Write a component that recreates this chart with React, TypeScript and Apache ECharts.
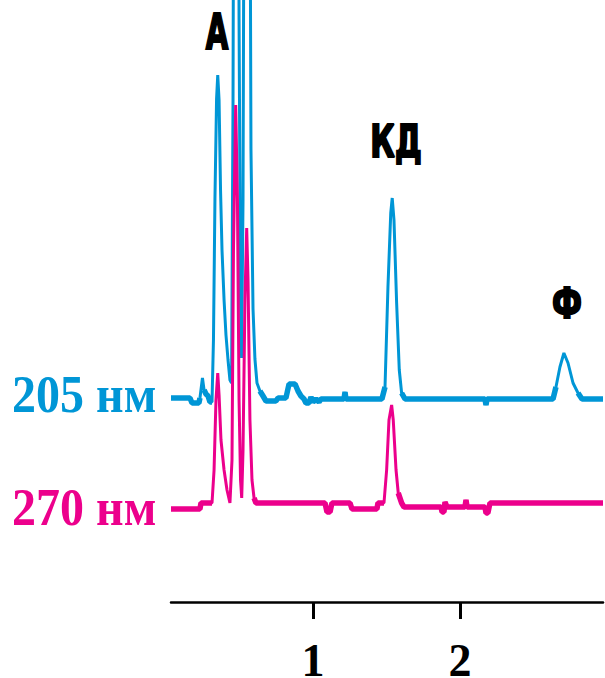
import React, { useEffect, useRef } from "react";
import * as echarts from "echarts";

// Chromatogram traces: [time (min), signal (arb. units)]
const trace205: [number, number][] = [
  [0.034, 1], [0.163, 1], [0.177, -4], [0.224, -4], [0.231, 1], [0.248, 21],
  [0.259, 9], [0.272, 5], [0.286, 3], [0.299, -3], [0.313, -3], [0.323, 60],
  [0.333, 200], [0.344, 300], [0.352, 324], [0.361, 299], [0.371, 209],
  [0.381, 149], [0.395, 99], [0.408, 64], [0.422, 39], [0.435, 19],
  [0.446, 16], [0.456, 300], [0.466, 900], [0.476, 1200], [0.486, 900],
  [0.497, 380], [0.507, 100], [0.514, 41], [0.524, 200], [0.534, 700],
  [0.551, 1100], [0.568, 700], [0.578, 250], [0.592, 90], [0.605, 40],
  [0.619, 16], [0.639, 8], [0.66, 3], [0.68, -2], [0.748, -2], [0.762, 1],
  [0.816, 1], [0.837, 15], [0.878, 15], [0.898, 8], [0.918, 3], [0.939, 0],
  [0.952, -4], [0.973, -4], [0.986, 2], [1.0, -3], [1.02, 0], [1.041, -3],
  [1.054, 0], [1.211, 0], [1.218, 7], [1.224, 0], [1.469, 0], [1.49, 12],
  [1.51, 112], [1.529, 186], [1.539, 201], [1.551, 179], [1.569, 96],
  [1.587, 29], [1.603, 6], [1.626, 0], [2.17, 0], [2.177, -6], [2.184, 0],
  [2.633, 0], [2.653, 12], [2.68, 32], [2.707, 46], [2.735, 36], [2.769, 16],
  [2.803, 6], [2.83, 0], [2.973, 0],
];

const trace270: [number, number][] = [
  [0.034, -3], [0.231, -3], [0.238, 3], [0.313, 3], [0.327, 36], [0.34, 106],
  [0.352, 133], [0.361, 111], [0.374, 66], [0.395, 36], [0.415, 16],
  [0.435, 3], [0.449, 46], [0.459, 256], [0.474, 401], [0.486, 306],
  [0.497, 106], [0.507, 26], [0.515, 8], [0.524, 56], [0.537, 206],
  [0.549, 278], [0.558, 226], [0.571, 86], [0.585, 26], [0.599, 8],
  [0.612, 3], [1.082, 3], [1.095, -6], [1.116, -6], [1.129, 3], [1.252, 3],
  [1.265, -3], [1.435, -3], [1.442, 3], [1.483, 3], [1.501, 36], [1.517, 86],
  [1.535, 101], [1.546, 86], [1.565, 36], [1.58, 13], [1.603, 3],
  [1.619, -1], [1.871, -1], [1.878, -6], [1.891, -6], [1.898, 4],
  [1.912, -1], [2.034, -1], [2.041, 6], [2.048, -1], [2.17, -1],
  [2.177, -7], [2.19, -7], [2.204, 3], [2.973, 3],
];

const traceNames = ["205 нм", "270 нм"];
const traceOffsets = [203, 96];
const peakLabels = ["А", "КД", "Ф"];
const xTickValues = [1, 2];
const xRange = [0.034, 2.973];
const yRange = [0, 602];
// signal level below which the trace is drawn as the heavy (noisy) baseline
const baselineBand = 15;

const BLUE = "#0096d6";
const MAGENTA = "#ec008c";

export default function App() {
  const ref = useRef<HTMLDivElement>(null);
  useEffect(() => {
    document.body.style.margin = "0";
    if (!ref.current) return;
    const chart = echarts.init(ref.current, null, { renderer: "svg" });
    const shift = (arr: [number, number][], off: number) =>
      arr.map(([t, v]) => [t, v + off]);
    const baseOnly = (arr: [number, number][], off: number) =>
      arr.map(([t, v]) => (Math.abs(v) <= baselineBand ? [t, v + off] : [t, null]));
    const serif = "'Liberation Serif', 'Times New Roman', serif";
    const cond = "'DejaVu Sans Condensed', 'DejaVu Sans', sans-serif";
    const heavy = { fill: "#000", stroke: "#000", lineWidth: 2 };
    const traces = [trace205, trace270];
    const colors = [BLUE, MAGENTA];
    const series: any[] = [];
    traces.forEach((tr, i) => {
      series.push({
        name: traceNames[i],
        type: "line",
        data: shift(tr, traceOffsets[i]),
        showSymbol: false,
        lineStyle: { color: colors[i], width: 3 },
        itemStyle: { color: colors[i] },
        clip: true,
      });
      series.push({
        name: traceNames[i] + " baseline",
        type: "line",
        data: baseOnly(tr, traceOffsets[i]),
        connectNulls: false,
        showSymbol: false,
        lineStyle: { color: colors[i], width: 5.5 },
        itemStyle: { color: colors[i] },
        clip: true,
      });
    });
    chart.setOption({
      animation: false,
      grid: {
        left: 171, right: 2, top: 0, bottom: 76,
        containLabel: false, outerBoundsMode: "none",
      },
      xAxis: {
        type: "value",
        min: xRange[0],
        max: xRange[1],
        axisLine: { show: true, lineStyle: { color: "#000", width: 2.5 } },
        axisTick: {
          show: true,
          customValues: xTickValues,
          length: 17,
          inside: false,
          lineStyle: { color: "#000", width: 3 },
        },
        axisLabel: {
          customValues: xTickValues,
          margin: 41,
          lineHeight: 34,
          color: "#000",
          fontFamily: serif,
          fontWeight: "bold",
          fontSize: 46,
        },
        splitLine: { show: false },
      },
      yAxis: {
        type: "value",
        min: yRange[0],
        max: yRange[1],
        show: false,
        splitLine: { show: false },
      },
      series,
      graphic: [
        {
          type: "text", x: 12, y: 394, scaleY: 1.12,
          style: { text: traceNames[0], fill: BLUE, font: `bold 48px ${serif}`, align: "left", verticalAlign: "middle" },
        },
        {
          type: "text", x: 12, y: 507, scaleY: 1.12,
          style: { text: traceNames[1], fill: MAGENTA, font: `bold 48px ${serif}`, align: "left", verticalAlign: "middle" },
        },
        {
          type: "text", x: 217, y: 32, scaleX: 0.66,
          style: { text: peakLabels[0], ...heavy, font: `bold 49px ${cond}`, align: "center", verticalAlign: "middle" },
        },
        {
          type: "text", x: 396, y: 142, scaleX: 0.76,
          style: { text: peakLabels[1], ...heavy, font: `bold 44px ${cond}`, align: "center", verticalAlign: "middle" },
        },
        {
          type: "text", x: 567, y: 303, scaleX: 0.78,
          style: { text: peakLabels[2], ...heavy, font: `bold 43px ${cond}`, align: "center", verticalAlign: "middle" },
        },
      ],
    });
    return () => chart.dispose();
  }, []);
  return <div ref={ref} style={{ width: 605, height: 678 }} />;
}
